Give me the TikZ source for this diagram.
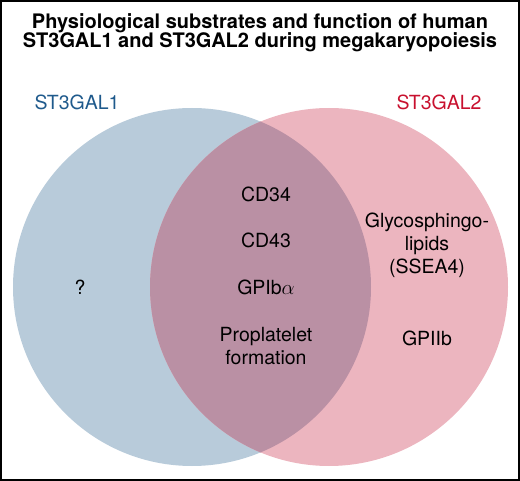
\documentclass[tikz,border=0pt]{standalone}
\usepackage{fontspec}
\setmainfont{TeX Gyre Heros}
\usepackage{tikz}
\usetikzlibrary{calc}

\definecolor{galonefill}{RGB}{184,203,218}
\definecolor{galtwofill}{RGB}{236,181,191}
\definecolor{overlapfill}{RGB}{186,144,164}
\definecolor{galonetext}{RGB}{31,90,140}
\definecolor{galtwotext}{RGB}{200,16,46}

\tikzset{
  lbl/.style={anchor=base, inner sep=0pt, font=\fontsize{19.5}{23}\selectfont},
  ttl/.style={lbl, font=\fontsize{20}{24}\selectfont\bfseries}
}

\begin{document}
\begin{tikzpicture}[x=1pt, y=-1pt]
  \useasboundingbox (0,0) rectangle (520,481);
  % Frame
  \draw[line width=2.4pt] (1.2,1.2) rectangle (518.8,479.8);
  % Title
  \node[ttl] (title1) at (260,29) {Physiological substrates and function of human};
  \node[ttl] (title2) at (260,48) {ST3GAL1 and ST3GAL2 during megakaryopoiesis};
  % Circle centres and radius
  \def\Rad{179}
  \coordinate (cone) at (192,287);
  \coordinate (ctwo) at (329,287);
  % Circles
  \fill[galonefill] (cone) circle (\Rad);
  \fill[galtwofill] (ctwo) circle (\Rad);
  % Overlap
  \begin{scope}
    \clip (cone) circle (\Rad);
    \fill[overlapfill] (ctwo) circle (\Rad);
  \end{scope}
  % Set names
  \node[lbl, galonetext] (gal1) at (77,110) {ST3GAL1};
  \node[lbl, galtwotext] (gal2) at (439,110) {ST3GAL2};
  % ST3GAL1 only
  \node[lbl] (unknown) at (80,295) {?};
  % Shared substrates
  \node[lbl] (cd34) at (266,202) {CD34};
  \node[lbl] (cd43) at (266,248) {CD43};
  \node[lbl] (gpiba) at (266,295) {GPIb$\alpha$};
  \node[lbl] (propl) at (266,342) {Proplatelet};
  \node[lbl] (form) at (266,364) {formation};
  % ST3GAL2 only
  \node[lbl] (glyco) at (427,228) {Glycosphingo-};
  \node[lbl] (lipid) at (427,251) {lipids};
  \node[lbl] (ssea) at (427,274) {(SSEA4)};
  \node[lbl] (gpiib) at (427,345) {GPIIb};
\end{tikzpicture}
\end{document}
